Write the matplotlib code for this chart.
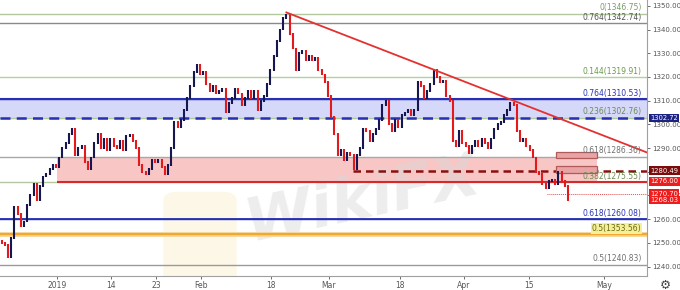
import numpy as np
import matplotlib.pyplot as plt
from matplotlib.transforms import blended_transform_factory
from matplotlib.patches import Rectangle, FancyBboxPatch

# closing prices, two bars per trading day
closes = [1250, 1249, 1244, 1252, 1265, 1262, 1257, 1259, 1266, 1270,
          1275, 1268, 1274, 1278, 1279, 1281, 1283, 1282, 1286, 1290,
          1292, 1296, 1298, 1287, 1290, 1291, 1284, 1281, 1286, 1292,
          1296, 1290, 1294, 1289, 1294, 1291, 1290, 1293, 1289, 1295,
          1295.5, 1293, 1290, 1283, 1280, 1279, 1281, 1285, 1284, 1285,
          1282, 1279, 1283, 1290, 1301, 1299, 1302, 1306, 1311, 1316,
          1322, 1325, 1321, 1322, 1317, 1314, 1316, 1313, 1314, 1315,
          1305, 1309, 1311, 1315, 1313, 1308, 1311, 1314, 1311, 1314,
          1306, 1310, 1312, 1317, 1323, 1329, 1335, 1340, 1345, 1346,
          1338, 1332, 1323, 1330, 1331, 1327, 1329, 1327, 1328, 1323,
          1321, 1318, 1312, 1303, 1296, 1287, 1289, 1285, 1288, 1287,
          1281, 1287, 1290, 1298, 1297, 1293, 1296, 1298, 1302, 1308,
          1310, 1300, 1297, 1302, 1299, 1304, 1305, 1306, 1304, 1306,
          1318, 1316, 1311, 1314, 1317, 1323, 1320, 1318, 1318.5, 1312,
          1310, 1293, 1291, 1297, 1292, 1291, 1288, 1291, 1293, 1291,
          1294, 1292, 1290, 1294, 1298, 1300, 1301, 1304, 1306, 1309,
          1308, 1297, 1293, 1294, 1291, 1289, 1286, 1280, 1279, 1275,
          1273, 1276, 1276.5, 1275, 1280, 1276, 1274, 1268.03]
first_open = 1251.0

date_ticks = [17.3, 34.2, 48.25, 62.2, 84.3, 102.3, 124.5, 144.5, 164.8, 188.25]
date_labels = ['2019', '14', '23', 'Feb', '18', 'Mar', '18', 'Apr', '15', 'May']

fib_prices = [1346.75, 1342.74, 1319.91, 1310.53, 1302.76,
              1286.36, 1275.55, 1260.08, 1253.56, 1240.83]
fib_labels = ['0(1346.75)', '0.764(1342.74)', '0.144(1319.91)', '0.764(1310.53)',
              '0.236(1302.76)', '0.618(1286.36)', '0.382(1275.55)', '0.618(1260.08)',
              '0.5(1353.56)', '0.5(1240.83)']
fib_line_colors = ['#b4c8a0', '#8a8a8a', '#b4d0a0', '#2630b0', '#b4c8a0',
                   '#a8a8a8', '#b4c8a0', '#2630b0', '#f0a830', '#9a9a9a']
fib_text_colors = ['#7a9a6a', '#555555', '#6a9a4a', '#2b35b0', '#6a8a5a',
                   '#707070', '#6a8a4a', '#2b35b0', '#6a6a10', '#707070']

tag_prices = [1302.72, 1280.49, 1276.00, 1270.70, 1268.03]
tag_colors = ['#1c2380', '#7a0c0c', '#ee1c1c', '#ee1c1c', '#ee1c1c']

blue_zone = (1302.76, 1310.53)
red_zone = (1275.55, 1286.36)
red_zone_start, red_zone_end = 17.3, 186.1
proj_boxes = [(1285.7, 1288.2), (1279.6, 1282.4)]
proj_start, proj_end = 173.2, 186.0
dash_level, dash_start = 1280.49, 109.8
dot_level, dot_start = 1270.70, 170.4
trend_a = (89.0, 1347.2)
trend_b = (159.0, 1310.5)

fig = plt.figure(figsize=(6.8, 2.9), dpi=100)
ax = fig.add_axes([0, 14 / 290, 647 / 680, 276 / 290])
x_min, x_max = -0.5, 201.7
ax.set_xlim(x_min, x_max)
ax.set_ylim(1236.0, 1352.45)

# zones
ax.axhspan(blue_zone[0], blue_zone[1], color='#d6d8fa', zorder=0)
ax.add_patch(Rectangle((red_zone_start, red_zone[0]), red_zone_end - red_zone_start,
                       red_zone[1] - red_zone[0], facecolor='#f9c6c6', edgecolor='none', zorder=0))

# watermark
ax.add_patch(FancyBboxPatch((52, 1232), 20, 38, boxstyle='round,pad=1.5,rounding_size=4',
                            facecolor='#fcf3d8', edgecolor='none', alpha=0.6, zorder=0.5))
ax.text(113, 1268, 'WikiFX', fontsize=44, fontweight='bold', fontstyle='italic',
        color='#d8d8d8', alpha=0.45, rotation=12, ha='center', va='center', zorder=0.6)

# fib lines
for p, c in zip(fib_prices, fib_line_colors):
    ax.axhline(p, color=c, lw=1.0, zorder=1)
ax.axhline(1253.56, color='#f5d699', lw=3.5, zorder=0.9)
ax.axhline(1253.56, color='#f0a830', lw=1.4, zorder=1)
ax.axhline(1310.53, color='#2630b0', lw=1.5, zorder=1.2)
ax.axhline(1260.08, color='#2630b0', lw=1.3, zorder=1.2)
ax.axhline(1302.76, color='#2630b0', lw=1.8, ls=(0, (4, 2.5)), zorder=1.2)
ax.hlines(red_zone[0], red_zone_start, x_max, color='#d42a2a', lw=1.5, zorder=1.2)
ax.hlines(dash_level, dash_start, x_max, color='#8a1010', lw=1.8, ls=(0, (3, 2)), zorder=1.2)
ax.hlines(dot_level, dot_start, x_max, color='#e05050', lw=0.7, ls=(0, (1, 1)), zorder=1.2)

for lo, hi in proj_boxes:
    ax.add_patch(Rectangle((proj_start, lo), proj_end - proj_start, hi - lo,
                           facecolor='#e8a4a4', edgecolor='#b05a5a', lw=0.9, zorder=1.3))

for p, lab, c in zip(fib_prices, fib_labels, fib_text_colors):
    bg = dict(facecolor='#f6f09a', edgecolor='none', pad=0.5) if p == 1253.56 else None
    ax.text(200.0, p + 0.6, lab, fontsize=5.5, color=c, ha='right', va='bottom',
            bbox=bg, zorder=4)

# candles
idx = np.arange(len(closes))
closes_arr = np.array(closes, dtype=float)
opens = np.concatenate([[first_open], closes_arr[:-1]])
up = closes_arr >= opens
lo = np.minimum(opens, closes_arr) - 0.4
hi = np.maximum(opens, closes_arr) + 0.4
ax.vlines(idx[up], lo[up], hi[up], color='#161650', lw=1.5, zorder=3)
ax.vlines(idx[~up], lo[~up], hi[~up], color='#e3191c', lw=1.5, zorder=3)

# trendline
slope = (trend_b[1] - trend_a[1]) / (trend_b[0] - trend_a[0])
ax.plot([trend_a[0], x_max], [trend_a[1], trend_a[1] + slope * (x_max - trend_a[0])],
        color='#e53030', lw=1.3, zorder=3.5)

# axes styling
ax.yaxis.tick_right()
ax.set_yticks(np.arange(1240, 1351, 10))
ax.set_yticklabels([f'{v:.2f}' for v in np.arange(1240, 1351, 10)])
ax.tick_params(axis='y', labelsize=5, colors='#555555', length=2.5, width=0.6, pad=1)
ax.set_xticks(date_ticks)
ax.set_xticklabels(date_labels)
ax.tick_params(axis='x', labelsize=5.5, colors='#555555', length=2, width=0.6, pad=1.5)
for s in ['top', 'left']:
    ax.spines[s].set_visible(False)
for s in ['right', 'bottom']:
    ax.spines[s].set_color('#a0a0a0')
    ax.spines[s].set_linewidth(0.8)

trans = blended_transform_factory(ax.transAxes, ax.transData)
for p, c in zip(tag_prices, tag_colors):
    ax.text(1.005, p, f'{p:.2f}', transform=trans, fontsize=4.9, color='white',
            ha='left', va='center', clip_on=False, zorder=10,
            bbox=dict(boxstyle='square,pad=0.2', facecolor=c, edgecolor='none'))

fig.text(665 / 680, 1 - 285 / 290, '\u2699', fontsize=9, color='#444444',
         ha='center', va='center')

fig.savefig('out.png', dpi=100)
